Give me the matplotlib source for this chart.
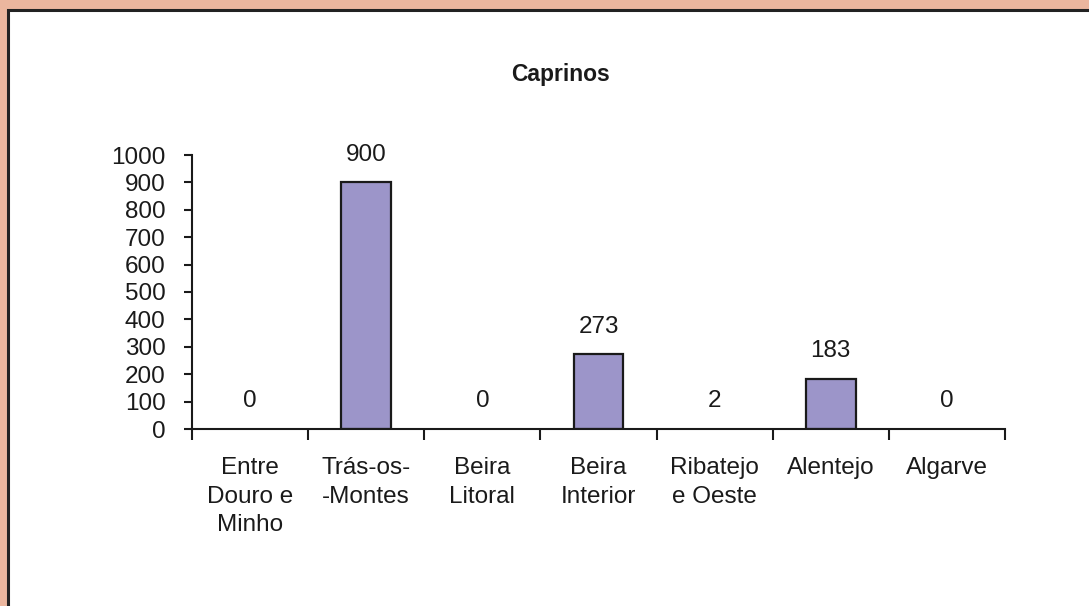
import matplotlib.pyplot as plt
from matplotlib.patches import Rectangle
import numpy as np

plt.rcParams['font.family'] = ['Liberation Sans', 'DejaVu Sans']

# regions and goat counts
regioes = ['Entre\nDouro e\nMinho', 'Trás-os-\n-Montes', 'Beira\nLitoral', 'Beira\nInterior',
           'Ribatejo\ne Oeste', 'Alentejo', 'Algarve']
caprinos = [0, 900, 0, 273, 2, 183, 0]

fig = plt.figure(figsize=(10.89, 6.06), dpi=100)
fig.patch.set_facecolor('#ebb69e')

# white panel with dark frame
fig.patches.append(Rectangle((8 / 1089, -0.1), 1.2, 1.1 - 10 / 606, transform=fig.transFigure,
                             facecolor='white', edgecolor='#222222', linewidth=2.2, zorder=-10))

ax = fig.add_axes([192 / 1089, 1 - 429 / 606, 813 / 1089, 274 / 606])
ax.set_facecolor('none')

x = np.arange(len(regioes))
bars = ax.bar(x, caprinos, width=0.43, color='#9c95c9', edgecolor='#1a1a1a', linewidth=1.6)
for b, v in zip(bars, caprinos):
    if v < 5:
        b.set_visible(False)

for xi, v in zip(x, caprinos):
    ax.annotate(str(v), (xi, v), xytext=(0, 15.5), textcoords='offset points',
                ha='center', va='baseline', fontsize=17.5, color='#1a1a1a')

ax.set_xlim(-0.5, len(regioes) - 0.5)
ax.set_ylim(0, 1000)
ax.set_yticks(np.arange(0, 1001, 100))

ax.set_xticks(np.arange(-0.5, len(regioes)), labels=[])
ax.set_xticks(x, labels=regioes, minor=True)
ax.tick_params(axis='x', which='minor', length=0, pad=20, labelsize=17.5, labelcolor='#1a1a1a')
ax.tick_params(axis='x', which='major', length=8, width=1.5, direction='out', color='#1a1a1a')
ax.tick_params(axis='y', length=6, width=1.5, direction='out', pad=13, labelsize=17.5,
               color='#1a1a1a', labelcolor='#1a1a1a')
for lbl in ax.get_xticklabels(minor=True):
    lbl.set_linespacing(1.4)
    lbl.set_va('top')

for s in ['top', 'right']:
    ax.spines[s].set_visible(False)
for s in ['left', 'bottom']:
    ax.spines[s].set_linewidth(1.5)
    ax.spines[s].set_color('#1a1a1a')

fig.text(560 / 1089, 1 - 75 / 606, 'Caprinos', ha='center', va='center', fontsize=16.5,
         fontweight='bold', color='#1a1a1a')

fig.savefig('out.png', dpi=100, facecolor=fig.get_facecolor())
